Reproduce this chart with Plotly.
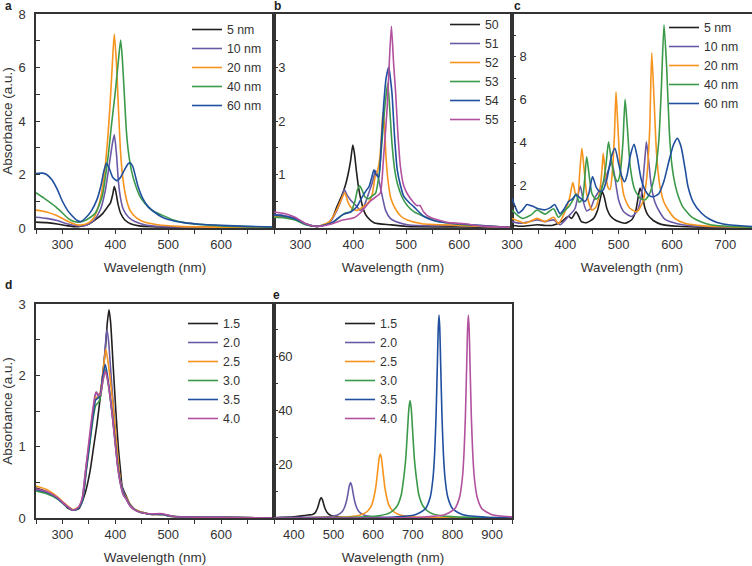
import plotly.graph_objects as go

# ---------------- data (wavelength nm, absorbance a.u.) ----------------
A_NAMES = ["5 nm", "10 nm", "20 nm", "40 nm", "60 nm"]
A_5 = [(250,0.22),(270,0.2),(290,0.15),(310,0.08),(330,0.05),(350,0.15),(365,0.35),(375,0.52),(385,0.78),(391,0.95),(395,1.25),(398,1.55),(401,1.35),(405,0.9),(410,0.55),(418,0.3),(430,0.15),(445,0.08),(470,0.05),(520,0.03),(600,0.02),(700,0.01)]
A_10 = [(250,0.4),(270,0.36),(290,0.28),(310,0.15),(330,0.08),(345,0.1),(360,0.3),(372,0.7),(381,1.4),(388,2.3),(394,3.1),(398,3.48),(402,2.8),(406,1.7),(410,1.1),(415,0.7),(425,0.4),(437,0.24),(455,0.12),(480,0.06),(550,0.03),(700,0.01)]
A_20 = [(250,0.67),(270,0.6),(290,0.46),(310,0.25),(325,0.13),(335,0.11),(350,0.2),(360,0.4),(370,0.95),(378,1.8),(385,3.2),(390,4.6),(394,6.0),(398,7.25),(402,6.2),(406,4.4),(410,2.8),(414,1.9),(420,1.15),(428,0.65),(440,0.38),(455,0.22),(480,0.12),(520,0.06),(600,0.03),(700,0.01)]
A_40 = [(250,1.32),(265,1.12),(287,0.8),(300,0.56),(312,0.34),(322,0.24),(331,0.22),(345,0.3),(362,0.55),(375,1.17),(387,2.79),(393,3.9),(400,5.1),(406,6.3),(410,7.03),(413,6.4),(417,5.0),(421,3.6),(425,2.8),(431,2.1),(437,1.67),(446,1.2),(456,0.92),(470,0.65),(487,0.49),(510,0.3),(530,0.2),(600,0.08),(700,0.03)]
A_60 = [(250,2.04),(262,2.05),(270,2.0),(280,1.8),(290,1.45),(300,1.0),(310,0.65),(320,0.42),(328,0.28),(335,0.24),(345,0.4),(355,0.65),(365,1.05),(373,1.6),(378,2.1),(383,2.42),(388,2.25),(395,1.9),(403,1.77),(410,1.9),(418,2.2),(424,2.4),(428,2.44),(433,2.3),(443,1.55),(452,1.1),(462,0.8),(475,0.58),(487,0.42),(500,0.32),(530,0.2),(560,0.14),(600,0.1),(650,0.06),(700,0.04)]

B_NAMES = ["50", "51", "52", "53", "54", "55"]
B_50 = [(250,0.24),(270,0.22),(290,0.17),(310,0.08),(332,0.03),(351,0.08),(360,0.18),(369,0.4),(378,0.6),(385,0.8),(390,1.0),(395,1.27),(399,1.55),(402,1.4),(406,1.05),(410,0.75),(415,0.5),(420,0.32),(426,0.21),(439,0.1),(470,0.06),(500,0.03),(600,0.02),(700,0.01)]
B_51 = [(250,0.25),(270,0.23),(290,0.18),(310,0.08),(332,0.03),(355,0.1),(369,0.33),(378,0.55),(383,0.72),(388,0.62),(395,0.52),(405,0.42),(413,0.33),(420,0.4),(429,0.65),(436,0.85),(442,1.07),(447,0.95),(452,0.72),(461,0.33),(470,0.18),(480,0.12),(502,0.06),(550,0.04),(610,0.06),(640,0.03),(700,0.01)]
B_52 = [(250,0.22),(270,0.2),(290,0.16),(310,0.07),(332,0.03),(355,0.12),(369,0.35),(378,0.55),(384,0.66),(390,0.48),(398,0.36),(407,0.33),(416,0.38),(426,0.45),(435,0.6),(441,0.95),(446,1.08),(450,1.3),(453,1.7),(456,2.16),(459,1.9),(462,1.3),(466,0.85),(471,0.55),(480,0.35),(490,0.22),(502,0.15),(530,0.08),(600,0.05),(700,0.01)]
B_53 = [(250,0.2),(270,0.19),(290,0.15),(310,0.06),(332,0.03),(360,0.1),(376,0.22),(385,0.28),(395,0.3),(403,0.5),(408,0.72),(412,0.79),(416,0.72),(422,0.58),(429,0.55),(436,0.6),(442,0.65),(448,0.95),(454,1.59),(459,2.2),(465,2.71),(469,2.2),(473,1.59),(478,1.1),(483,0.84),(492,0.58),(502,0.42),(515,0.3),(533,0.22),(560,0.12),(600,0.07),(700,0.01)]
B_54 = [(250,0.24),(270,0.22),(290,0.17),(310,0.07),(332,0.03),(360,0.1),(380,0.25),(395,0.3),(407,0.4),(415,0.55),(423,0.68),(430,0.78),(435,0.95),(439,1.09),(443,1.0),(448,0.95),(453,1.6),(457,2.25),(462,2.8),(467,3.01),(470,2.8),(473,2.53),(478,1.7),(483,1.09),(489,0.8),(495,0.6),(505,0.48),(514,0.4),(533,0.22),(560,0.12),(610,0.07),(700,0.01)]
B_55 = [(250,0.3),(270,0.27),(290,0.2),(310,0.08),(332,0.03),(360,0.08),(380,0.15),(401,0.19),(415,0.3),(432,0.5),(445,0.6),(451,0.65),(457,1.3),(464,2.25),(468,3.1),(472,3.77),(476,3.1),(480,2.53),(484,1.8),(489,1.15),(495,0.8),(502,0.64),(512,0.5),(520,0.42),(526,0.42),(533,0.3),(545,0.2),(580,0.1),(610,0.08),(640,0.04),(700,0.01)]

C_NAMES = ["5 nm", "10 nm", "20 nm", "40 nm", "60 nm"]
C_5 = [(300,0.12),(320,0.08),(347,0.15),(362,0.12),(375,0.12),(393,0.3),(400,0.45),(406,0.55),(412,0.45),(420,0.76),(425,0.55),(430,0.3),(440,0.25),(453,0.45),(460,0.8),(465,1.3),(469,1.7),(473,1.45),(478,0.9),(485,0.55),(495,0.35),(512,0.22),(525,0.4),(532,0.8),(537,1.5),(540,1.85),(544,1.6),(549,0.95),(555,0.6),(565,0.35),(580,0.17),(610,0.08),(660,0.04),(750,0.02)]
C_10 = [(300,0.3),(315,0.22),(330,0.28),(347,0.38),(362,0.3),(378,0.38),(390,0.15),(406,0.55),(418,0.9),(428,1.96),(434,1.2),(440,0.8),(447,0.9),(455,1.4),(465,1.8),(475,2.3),(482,2.8),(487,3.1),(492,2.5),(500,1.3),(510,0.75),(524,0.54),(535,0.8),(543,1.6),(549,3.2),(552,4.03),(556,3.2),(561,2.0),(568,1.2),(578,0.7),(587,0.4),(610,0.2),(650,0.08),(750,0.03)]
C_20 = [(300,0.45),(315,0.3),(325,0.22),(347,0.45),(362,0.3),(378,0.5),(387,0.2),(400,0.8),(408,1.4),(414,2.12),(419,1.6),(423,1.5),(427,2.6),(431,3.72),(435,2.8),(440,1.6),(450,0.84),(458,1.0),(465,1.8),(469,2.8),(471,3.49),(475,2.6),(480,1.9),(484,1.8),(488,2.6),(492,4.3),(495,6.37),(498,5.0),(503,2.8),(510,1.5),(520,0.95),(534,0.76),(545,1.2),(552,2.2),(558,4.5),(562,8.19),(566,6.2),(571,3.5),(577,2.0),(585,1.2),(593,0.84),(605,0.45),(624,0.22),(660,0.1),(750,0.04)]
C_40 = [(300,0.84),(310,0.6),(319,0.45),(335,0.6),(347,0.84),(362,0.65),(378,0.9),(387,0.5),(400,0.85),(406,0.98),(414,1.3),(420,1.6),(426,1.2),(432,1.35),(436,2.2),(440,3.33),(444,2.6),(450,1.6),(457,1.35),(463,1.47),(470,2.0),(476,2.9),(481,4.03),(486,3.2),(492,2.4),(498,2.16),(503,2.6),(508,4.0),(512,6.01),(516,4.8),(522,2.8),(530,1.8),(540,1.4),(549,1.31),(558,1.6),(567,2.4),(575,4.0),(580,6.5),(585,9.49),(590,7.5),(595,4.5),(600,2.9),(606,2.0),(612,1.47),(620,1.0),(636,0.53),(655,0.28),(674,0.14),(710,0.07),(750,0.04)]
C_60 = [(300,1.39),(306,1.0),(312,0.7),(320,0.85),(328,1.1),(340,1.0),(350,0.9),(362,0.85),(372,0.95),(380,1.1),(390,0.67),(398,0.9),(406,1.24),(413,1.35),(420,1.55),(428,1.4),(437,1.24),(444,1.6),(451,2.4),(458,1.9),(465,1.7),(471,1.78),(478,2.3),(486,3.3),(493,3.72),(500,3.0),(506,2.4),(511,2.16),(516,2.5),(522,3.4),(529,3.91),(535,3.3),(542,2.3),(550,1.75),(558,1.5),(565,1.46),(575,1.6),(585,2.2),(595,3.2),(603,3.9),(610,4.19),(617,3.8),(625,2.7),(630,1.94),(640,1.2),(655,0.7),(670,0.42),(686,0.25),(710,0.14),(750,0.07)]

D_NAMES = ["1.5", "2.0", "2.5", "3.0", "3.5", "4.0"]
D_15 = [(250,0.42),(270,0.37),(287,0.3),(300,0.22),(310,0.14),(320,0.11),(331,0.13),(343,0.35),(352,0.65),(359,1.0),(365,1.3),(371,1.66),(376,2.0),(381,2.36),(385,2.75),(388,2.92),(391,2.75),(396,2.12),(401,1.5),(406,0.96),(410,0.65),(413,0.44),(421,0.3),(427,0.2),(434,0.14),(445,0.09),(456,0.07),(470,0.05),(487,0.06),(500,0.03),(512,0.02),(600,0.01),(700,0.0)]
D_20 = [(250,0.4),(270,0.36),(290,0.28),(305,0.18),(320,0.11),(328,0.13),(336,0.22),(343,0.63),(350,1.0),(355,1.3),(360,1.62),(364,1.77),(368,1.7),(372,1.75),(376,1.95),(380,2.3),(384,2.64),(387,2.5),(391,2.1),(396,1.6),(400,1.25),(404,0.9),(408,0.6),(412,0.45),(418,0.32),(425,0.2),(435,0.12),(450,0.08),(470,0.05),(490,0.05),(510,0.02),(600,0.01),(700,0.0)]
D_25 = [(250,0.45),(270,0.4),(290,0.3),(305,0.2),(320,0.12),(330,0.15),(338,0.28),(345,0.7),(352,1.15),(358,1.5),(363,1.7),(367,1.68),(371,1.75),(376,2.0),(382,2.37),(386,2.2),(391,1.9),(396,1.55),(401,1.15),(406,0.75),(410,0.5),(415,0.35),(420,0.3),(427,0.2),(437,0.12),(450,0.08),(470,0.05),(490,0.05),(510,0.02),(600,0.01),(700,0.0)]
D_30 = [(250,0.38),(270,0.34),(290,0.27),(305,0.18),(320,0.11),(330,0.14),(338,0.25),(345,0.65),(352,1.05),(358,1.4),(363,1.58),(368,1.62),(372,1.7),(377,1.95),(381,2.08),(385,1.95),(390,1.7),(395,1.4),(400,1.05),(405,0.7),(410,0.48),(415,0.34),(420,0.28),(428,0.18),(440,0.1),(460,0.06),(490,0.05),(510,0.02),(600,0.01),(700,0.0)]
D_35 = [(250,0.4),(270,0.36),(290,0.28),(305,0.18),(320,0.11),(330,0.14),(338,0.26),(345,0.68),(352,1.1),(358,1.45),(363,1.66),(367,1.68),(371,1.72),(376,1.98),(381,2.15),(385,2.0),(390,1.72),(395,1.4),(400,1.05),(405,0.7),(410,0.48),(415,0.34),(420,0.28),(428,0.18),(440,0.1),(460,0.06),(490,0.05),(510,0.02),(600,0.01),(700,0.0)]
D_40 = [(250,0.41),(270,0.37),(290,0.29),(305,0.19),(320,0.11),(330,0.15),(338,0.3),(345,0.75),(352,1.2),(358,1.55),(363,1.76),(367,1.74),(371,1.72),(376,1.9),(381,2.06),(385,1.95),(390,1.7),(395,1.38),(400,1.02),(405,0.68),(410,0.46),(415,0.32),(420,0.27),(428,0.17),(440,0.1),(460,0.06),(490,0.06),(510,0.02),(600,0.01),(700,0.0)]

E_NAMES = ["1.5", "2.0", "2.5", "3.0", "3.5", "4.0"]
E_15 = [(350,0.1),(400,0.4),(420,0.8),(436,1.1),(447,1.3),(454,2.0),(460,3.8),(463,5.3),(466,6.8),(469,7.6),(472,6.8),(475,5.3),(478,3.8),(484,2.0),(491,1.1),(502,0.6),(520,0.3),(560,0.12),(650,0.05),(950,0.01)]
E_20 = [(350,0.08),(420,0.25),(470,0.35),(494,0.5),(510,1.1),(521,2.2),(528,4.0),(533,6.5),(537,9.5),(540,12.0),(543,13.1),(546,12.0),(549,9.5),(553,6.5),(558,4.0),(565,2.2),(576,1.1),(593,0.5),(620,0.25),(680,0.12),(800,0.05),(950,0.02)]
E_25 = [(350,0.05),(470,0.13),(538,0.45),(568,1.1),(585,2.4),(596,4.7),(602,7.8),(607,11.85),(612,18.3),(615,22.1),(618,23.7),(621,22.1),(624,18.3),(629,11.85),(634,7.8),(640,4.7),(651,2.4),(668,1.1),(698,0.45),(768,0.13),(950,0.03)]
E_30 = [(350,0.05),(543,0.23),(613,0.8),(643,2.0),(660,4.35),(671,8.7),(677,14.8),(682,21.7),(687,33.5),(690,40.5),(693,43.5),(696,40.5),(699,33.5),(704,21.7),(709,14.8),(715,8.7),(726,4.35),(743,2.0),(773,0.8),(843,0.23),(950,0.1)]
E_35 = [(350,0.02),(646,0.3),(706,1.2),(731,3.3),(744,7.8),(751,15),(755,24),(758.5,37.6),(762,58),(764,70),(766,75.2),(768,70),(770,58),(773.5,37.6),(777,24),(781,15),(788,7.8),(801,3.3),(826,1.2),(886,0.3),(950,0.15)]
E_40 = [(350,0.02),(720,0.3),(780,1.2),(805,3.3),(818,7.8),(825,15),(829,24),(832.5,37.6),(836,58),(838,70),(840,75.2),(842,70),(844,58),(847.5,37.6),(851,24),(855,15),(862,7.8),(875,3.3),(900,1.2),(950,0.4)]

COLORS = ["#231f20", "#6a5aa6", "#f7941d", "#3b9a4a", "#1f4f9e", "#b2519e"]

# tick definitions
X_TICKS_A = list(range(250, 701, 50))
X_TICKS_C = list(range(300, 751, 50))
X_TICKS_E = list(range(350, 951, 50))

# ---------------- figure ----------------
W, H = 752, 566
def px_x(p): return p / W
def px_y(p): return 1 - p / H

X_L = [px_x(36), px_x(274)]
X_M = [px_x(274), px_x(512)]
X_R = [px_x(512), 1.0]
Y_T = [px_y(228), px_y(14)]
Y_B = [px_y(518), px_y(304)]

FONT = "Liberation Sans, Arial, Helvetica, sans-serif"
TXT = "#333333"

fig = go.Figure()

def add_series(series, names, xa, ya, leg):
    for i, (pts, nm) in enumerate(zip(series, names)):
        fig.add_trace(go.Scatter(
            x=[p[0] for p in pts], y=[p[1] for p in pts], mode="lines", name=nm,
            line=dict(color=COLORS[i], width=1.6, shape="spline", smoothing=0.6),
            xaxis=xa, yaxis=ya, legend=leg, hoverinfo="skip"))

add_series([A_5, A_10, A_20, A_40, A_60], A_NAMES, "x", "y", "legend")
add_series([B_50, B_51, B_52, B_53, B_54, B_55], B_NAMES, "x2", "y2", "legend2")
add_series([C_5, C_10, C_20, C_40, C_60], C_NAMES, "x3", "y3", "legend3")
add_series([D_15, D_20, D_25, D_30, D_35, D_40], D_NAMES, "x4", "y4", "legend4")
add_series([E_15, E_20, E_25, E_30, E_35, E_40], E_NAMES, "x5", "y5", "legend5")

def xaxis(dom, rng, tv, labels, anchor, title=True):
    d = dict(domain=dom, range=rng, anchor=anchor, showline=True, linecolor="#333",
             linewidth=1.5, mirror=True, ticks="outside", ticklen=4, tickcolor="#333",
             tickwidth=1.2, tickmode="array", tickvals=tv,
             ticktext=[str(v) if v in labels else "" for v in tv],
             tickfont=dict(size=13, color=TXT, family=FONT), showgrid=False, zeroline=False,
             ticklabeloverflow="allow")
    if title:
        d["title"] = dict(text="Wavelength (nm)", font=dict(size=13.5, color=TXT, family=FONT), standoff=11)
    return d

def yaxis(dom, rng, tv, labels, anchor, inside, title=None, standoff=None):
    d = dict(domain=dom, range=rng, anchor=anchor, showline=True, linecolor="#333",
             linewidth=1.5, mirror=True, ticks="inside", ticklen=4, tickcolor="#333",
             tickwidth=1.2, tickmode="array", tickvals=tv,
             ticktext=[(("%g" % v) if v in labels else "") for v in tv],
             tickfont=dict(size=13, color=TXT, family=FONT), showgrid=False, zeroline=False)
    if inside:
        d["ticklabelposition"] = "inside"
    if standoff is not None:
        d["ticklabelstandoff"] = standoff
        d["ticklabeloverflow"] = "allow"
    if title:
        d["title"] = dict(text=title, font=dict(size=13.5, color=TXT, family=FONT), standoff=3)
    return d

fig.update_layout(
    xaxis=xaxis(X_L, [250, 700], X_TICKS_A, [300, 400, 500, 600], "y"),
    yaxis=yaxis(Y_T, [0, 8], list(range(0, 9)), [0, 2, 4, 6, 8], "x", False, "Absorbance (a.u.)", 6),
    xaxis2=xaxis(X_M, [250, 700], X_TICKS_A, [300, 400, 500, 600], "y2"),
    yaxis2=yaxis(Y_T, [0, 4], [i * 0.5 for i in range(9)], [1, 2, 3], "x2", True),
    xaxis3=xaxis(X_R, [300, 750], X_TICKS_C, [300, 400, 500, 600, 700], "y3"),
    yaxis3=yaxis(Y_T, [0, 10], list(range(0, 11)), [2, 4, 6, 8], "x3", False, None, -19),
    xaxis4=xaxis(X_L, [250, 700], X_TICKS_A, [300, 400, 500, 600], "y4"),
    yaxis4=yaxis(Y_B, [0, 3], [i * 0.5 for i in range(7)], [0, 1, 2, 3], "x4", False, "Absorbance (a.u.)", 6),
    xaxis5=xaxis(X_M, [350, 950], X_TICKS_E, [400, 500, 600, 700, 800, 900], "y5"),
    yaxis5=yaxis(Y_B, [0, 79.3], list(range(0, 80, 10)), [20, 40, 60], "x5", True),
)

def legend(xp, yp):
    return dict(x=px_x(xp), y=px_y(yp), xanchor="left", yanchor="top",
                bgcolor="rgba(0,0,0,0)", borderwidth=0,
                font=dict(size=12.3, color=TXT, family=FONT), tracegroupgap=0)

fig.update_layout(
    legend=legend(187, 15), legend2=legend(445, 10), legend3=legend(664, 13),
    legend4=legend(183, 309), legend5=legend(340, 309),
)

for txt, xp, yp in [("a", 3, 6), ("b", 272, 6), ("c", 512, 6), ("d", 3, 285), ("e", 271, 295)]:
    fig.add_annotation(text="<b>%s</b>" % txt, x=px_x(xp), y=px_y(yp), xref="paper", yref="paper",
                       xanchor="left", yanchor="middle", showarrow=False,
                       font=dict(size=12, color="#222", family=FONT))

fig.update_layout(width=W, height=H, margin=dict(l=0, r=0, t=0, b=0, autoexpand=False),
                  plot_bgcolor="white", paper_bgcolor="white", showlegend=True,
                  font=dict(family=FONT, color=TXT))

fig.write_html("out.html", config={"displayModeBar": False},
               post_script="document.body.style.margin='0px';")
